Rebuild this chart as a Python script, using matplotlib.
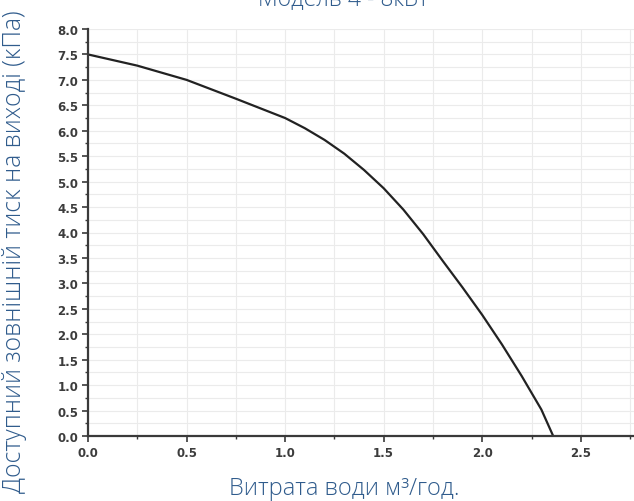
import matplotlib.pyplot as plt
import numpy as np
from matplotlib.ticker import MultipleLocator

# pump curve
flow = [0.0, 0.25, 0.5, 0.75, 1.0, 1.1, 1.2, 1.3, 1.4, 1.5, 1.6, 1.7,
        1.8, 1.9, 2.0, 2.1, 2.2, 2.3, 2.36]
pressure = [7.5, 7.28, 7.0, 6.63, 6.25, 6.05, 5.82, 5.55, 5.23, 4.87, 4.45, 3.97,
            3.44, 2.92, 2.38, 1.8, 1.18, 0.52, 0.0]

title = "Модель 4 - 8кВт"
xlabel = "Витрата води м³/год."
ylabel = "Доступний зовнішній тиск на виході (кПа)"

text_color = "#2f5b8c"
axis_color = "#3a3a3a"

fig = plt.figure(figsize=(6.34, 5.02), dpi=100)
ax = fig.add_axes([88 / 634, 65 / 502, 1 - 88 / 634, 407 / 502])

ax.plot(flow, pressure, color="#222222", lw=1.6)

ax.set_xlim(0, 2.77)
ax.set_ylim(0, 8.0)
ax.xaxis.set_major_locator(MultipleLocator(0.5))
ax.xaxis.set_minor_locator(MultipleLocator(0.25))
ax.yaxis.set_major_locator(MultipleLocator(0.5))
ax.yaxis.set_minor_locator(MultipleLocator(0.25))
ax.xaxis.set_major_formatter(lambda v, p: f"{v:.1f}")
ax.yaxis.set_major_formatter(lambda v, p: f"{v:.1f}")

ax.grid(True, which="both", color="#ebebeb", lw=0.8)
ax.set_axisbelow(True)

for side in ["top", "right"]:
    ax.spines[side].set_visible(False)
for side in ["left", "bottom"]:
    ax.spines[side].set_color(axis_color)
    ax.spines[side].set_linewidth(1.6)

ax.tick_params(which="major", direction="out", length=4, width=1.2,
               color=axis_color, labelsize=8.5, labelcolor="#3c3c3c", pad=3)
ax.tick_params(which="minor", direction="out", length=2.5, width=1.0,
               color=axis_color)
for lab in ax.get_xticklabels() + ax.get_yticklabels():
    lab.set_fontweight("bold")

font = dict(family="Open Sans", fontweight="light", color=text_color)
fig.text(343 / 634, 1 + 1 / 502, title, ha="center", va="center", fontsize=16.5, **font)
fig.text(344 / 634, 1 - 489 / 502, xlabel, ha="center", va="center", fontsize=17, **font)
fig.text(15 / 634, 1 - 252 / 502, ylabel, ha="center", va="center", rotation=90,
         fontsize=17.8, **font)

fig.savefig("out.png", dpi=100)
